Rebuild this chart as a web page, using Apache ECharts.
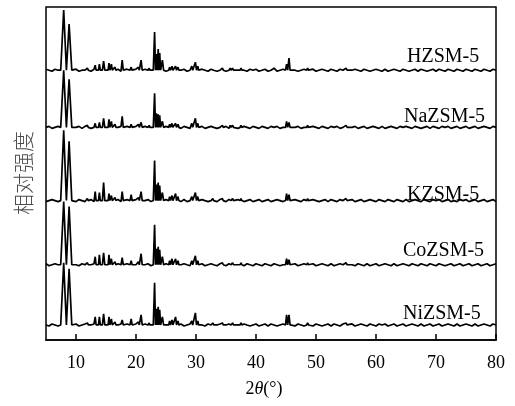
<!DOCTYPE html>
<html><head><meta charset="utf-8">
<script src="https://cdn.jsdelivr.net/npm/echarts@6/dist/echarts.min.js"></script>
<style>html,body{margin:0;padding:0;background:#fff}#c{width:515px;height:406px}</style>
</head><body><div id="c"></div>
<script>
const sampleNames = ['HZSM-5','NaZSM-5','KZSM-5','CoZSM-5','NiZSM-5'];
const baselines = [269, 212, 139, 75, 15];
const xTicks = [10,20,30,40,50,60,70,80];

const peakPos =       [7.95,8.85,11.9,13.2,13.9,14.6,15.5,15.9,16.5,17.7,19.2,20.4,20.85,22.2,23.1,23.4,23.7,23.95,24.4,25.6,26.0,26.6,27.0,29.3,29.9,30.3,32.8,34.4,35.7,36.1,37.5,45.1,45.5,48.6,55.0];
const peakHalfWidth = [0.5, 0.45,0.15,0.15,0.15,0.2, 0.15,0.15,0.15,0.18,0.15,0.15,0.18, 0.12,0.22,0.15,0.15,0.15, 0.2, 0.15,0.15,0.15,0.15,0.15,0.18,0.15,0.15,0.15,0.15,0.15,0.15,0.18,0.18,0.15,0.2];

const peaksH  = [60,46,2,5,6,9,7,6,3,10,3,3,10,2,38,16,21,17,10,3,4,4,3,4,8,4,2,2,2,2,2,6,12,2,2];
const peaksNa = [57,48,2,4,5,9,8,6,3,11,3,3,5,2,34,14,13,12,6,3,4,4,3,4,9,4,2,2,2,2,2,6,5,2,2];
const peaksK  = [70,59,2,9,8,18,7,5,3,9,6,3,9,2,40,16,18,15,8,4,5,7,4,4,8,4,2,2,2,2,2,7,6,2,2];
const peaksCo = [63,58,2,8,10,12,10,6,3,7,4,3,11,2,40,16,18,15,8,4,6,6,4,4,9,4,2,2,2,2,2,6,5,2,2];
const peaksNi = [62,56,2,8,8,11,8,6,3,5,6,3,10,2,42,16,18,15,8,4,5,8,4,4,12,4,2,2,2,2,2,10,10,2,2];

// baseline noise, sampled every 0.5 deg from 5 to 80
const noiseStart = 5, noiseStep = 0.5;
const noiseH = [1,0,-1,1,0,-1,0,1,-1,0, 1,-1,0,0,1,-1,1,0,-1,1, 0,-1,1,0,1,-1,0,1,0,-1, 1,0,-1,1,0,1,-1,0,1,0, -1,1,0,-1,1,0,1,-1,0,1, 0,-1,1,0,-1,1,0,-1,0,1, -1,0,1,-1,0,1,0,-1,1,0, 1,-1,0,1,-1,0,2,-1,0,1, 0,-1,1,0,-1,0,1,-1,0,1, -1,0,1,0,-1,1,0,-1,1,0, 1,-1,0,1,0,-1,1,0,-1,0, 1,0,-1,1,-1,0,1,0,-1,1, 0,-1,0,1,-1,1,0,-1,0,1, -1,1,0,-1,1,0,-1,1,0,-1, 1,0,-1,1,0,-1,1,0,-1,1, 0];
const noiseNa = [0,1,-1,0,1,0,-1,1,0,-1, 0,1,-1,1,0,-1,0,1,1,-1, 0,1,-1,0,0,1,-1,1,0,-1, 1,-1,0,1,0,-1,1,0,-1,0, 1,0,-1,0,1,-1,1,0,-1,1, -1,0,1,-1,0,1,1,-1,0,0, 1,-1,0,1,-1,0,1,0,-1,1, 0,-1,1,0,-1,1,0,1,-1,0, 1,-1,0,0,1,-1,0,1,-1,1, 0,-1,1,0,-1,1,0,1,-1,0, -1,1,0,1,-1,0,1,-1,0,1, 0,-1,1,-1,0,1,0,-1,1,0, 1,0,-1,1,0,-1,0,1,-1,1, 0,-1,1,0,1,-1,0,1,-1,0, 1,-1,0,1,-1,0,1,0,-1,1, 0];
const noiseK = [-1,0,1,0,-1,1,0,-1,1,0, -1,1,0,-1,0,1,-1,0,1,-1, 0,1,0,-1,1,-1,0,1,0,-1, 1,0,-1,0,1,-1,1,0,-1,0, 1,-1,0,1,0,-1,1,-1,0,1, 0,-1,1,0,-1,0,1,-1,1,0, -1,1,0,-1,1,0,-1,0,1,-1, 0,1,-1,0,1,-1,0,1,0,-1, 1,0,-1,1,0,-1,1,-1,0,1, 0,-1,0,1,-1,1,0,-1,1,0, -1,0,1,-1,0,1,-1,0,1,0, -1,1,0,-1,1,0,-1,1,0,-1, 1,-1,0,1,0,-1,1,0,-1,1, 0,1,-1,0,1,-1,0,-1,1,0, 1,-1,0,1,-1,0,1,-1,0,1, -1];
const noiseCo = [1,-1,0,1,0,-1,1,0,-1,1, 0,-1,1,0,-1,0,1,-1,0,1, -1,0,1,-1,1,0,-1,1,0,-1, 0,1,-1,0,1,-1,0,1,-1,0, 1,0,-1,1,-1,0,1,0,-1,1, 0,-1,1,-1,0,1,0,-1,1,0, -1,1,0,-1,0,1,-1,1,0,-1, 1,0,-1,1,0,-1,1,0,-1,0, 1,-1,0,1,-1,0,1,0,-1,1, -1,0,1,0,-1,1,-1,0,1,0, -1,1,0,-1,1,0,-1,1,-1,0, 1,-1,0,1,0,-1,1,-1,0,1, 0,-1,1,0,-1,1,0,-1,1,0, -1,1,0,-1,0,1,-1,0,1,-1, 0,1,-1,0,1,-1,0,1,-1,0, 1];
const noiseNi = [0,-1,1,0,-1,1,0,1,-1,0, 1,-1,0,1,-1,0,1,0,-1,1, -1,0,1,-1,0,1,-1,1,0,-1, 1,0,-1,1,0,-1,1,0,-1,1, 0,-1,1,0,-1,1,-1,0,1,0, -1,1,0,-1,1,0,-1,0,1,-1, 0,1,-1,1,0,-1,1,0,-1,0, 1,-1,0,1,-1,1,0,-1,0,1, -1,0,1,-1,1,0,-1,1,0,-1, 1,0,-1,0,1,-1,1,0,-1,1, 0,-1,1,-1,0,1,0,-1,1,0, -1,1,0,1,-1,0,1,-1,0,1, -1,0,1,0,-1,1,-1,0,1,-1, 0,1,-1,0,1,0,-1,1,-1,0, 1,0,-1,1,-1,0,1,0,-1,1, 0];

const peakSets = [peaksH, peaksNa, peaksK, peaksCo, peaksNi];
const noiseSets = [noiseH, noiseNa, noiseK, noiseCo, noiseNi];

function buildSeries(heights, noise, base) {
  const pts = [];
  peakPos.forEach((p, i) => {
    const w = peakHalfWidth[i];
    pts.push([p - w, base], [p, base + heights[i]], [p + w, base]);
  });
  noise.forEach((v, i) => {
    const x = noiseStart + i * noiseStep;
    const inside = peakPos.some((p, j) => Math.abs(x - p) <= peakHalfWidth[j]);
    if (!inside) pts.push([x, base + v]);
  });
  pts.sort((a, b) => a[0] - b[0]);
  return pts;
}

const labelX = [407, 404, 407, 403, 403];
const labelY = [57, 117, 195, 251, 314];
const serif = '"Liberation Serif", "Times New Roman", serif';

const chart = echarts.init(document.getElementById('c'), null, {renderer: 'canvas'});
chart.setOption({
  animation: false,
  backgroundColor: '#fff',
  grid: {left: 46, right: 19, top: 7, bottom: 66, show: true, borderColor: '#000', borderWidth: 1.5, containLabel: false},
  xAxis: {
    type: 'value', min: 5, max: 80,
    axisLine: {show: true, onZero: false, lineStyle: {color: '#000', width: 1.5}},
    axisTick: {show: true, inside: true, length: 6, customValues: xTicks, lineStyle: {color: '#000', width: 1.5}},
    axisLabel: {customValues: xTicks, color: '#000', fontFamily: serif, fontSize: 18, margin: 14},
    splitLine: {show: false}
  },
  yAxis: {type: 'value', min: 0, max: 332, show: false, splitLine: {show: false}},
  series: sampleNames.map((name, k) => ({
    name, type: 'line', showSymbol: false, symbol: 'none',
    lineStyle: {color: '#000', width: 1.7},
    data: buildSeries(peakSets[k], noiseSets[k], baselines[k])
  })),
  graphic: [
    ...sampleNames.map((name, k) => ({
      type: 'text', x: labelX[k], y: labelY[k], z: 10,
      style: {text: name, font: '20px ' + serif, fill: '#000', textAlign: 'left', textVerticalAlign: 'middle'}
    })),
    {
      type: 'text', x: 264, y: 389, z: 10,
      style: {
        text: '{a|2}{b|θ}{a|(°)}', textAlign: 'center', textVerticalAlign: 'middle',
        rich: {
          a: {fontFamily: serif, fontSize: 18, fill: '#000', color: '#000'},
          b: {fontFamily: serif, fontSize: 18, fontStyle: 'italic', fill: '#000', color: '#000'}
        }
      }
    },
    {
      type: 'text', x: 23, y: 173, rotation: Math.PI / 2, z: 10,
      style: {text: '相对强度', font: '300 21px "Noto Sans CJK SC"', fill: '#4a4a4a', textAlign: 'center', textVerticalAlign: 'middle'}
    }
  ]
});
</script></body></html>
